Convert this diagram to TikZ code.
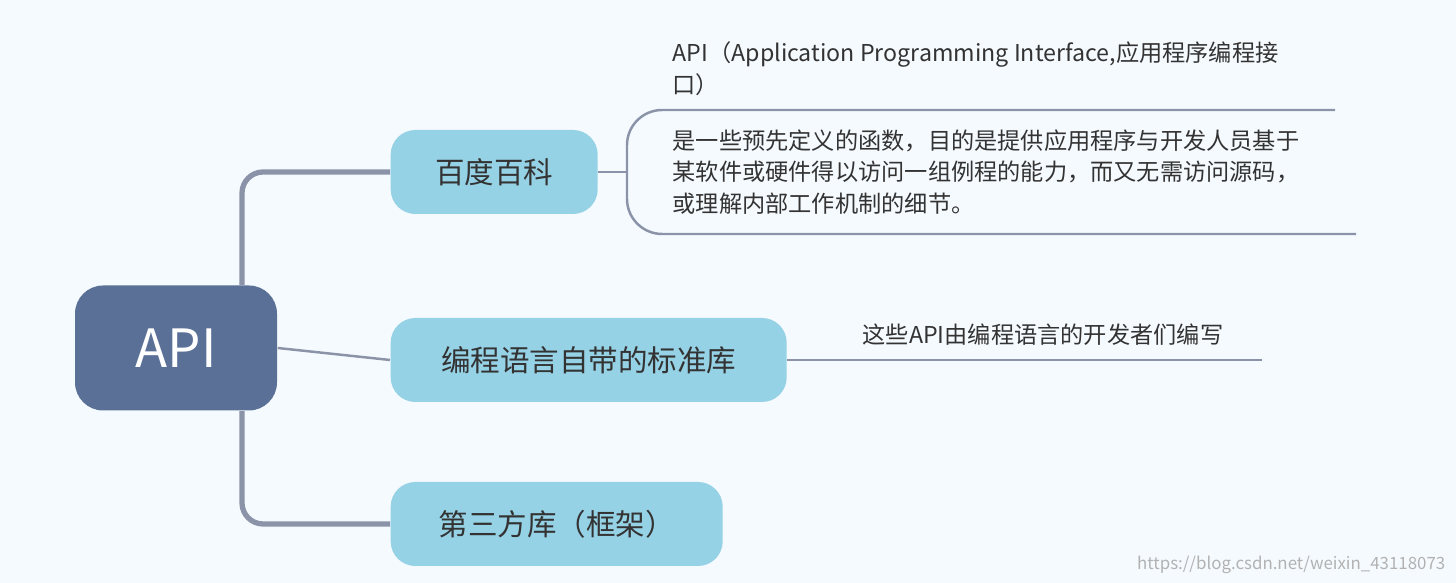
\documentclass[tikz,border=0pt]{standalone}
\usepackage{fontspec}
\setmainfont{Noto Sans CJK SC}
\usetikzlibrary{positioning}
\definecolor{bgcol}{HTML}{F5FAFE}
\definecolor{rootcol}{HTML}{5A7096}
\definecolor{topiccol}{HTML}{96D2E6}
\definecolor{linecol}{HTML}{8A93A8}
\definecolor{txtcol}{HTML}{333333}
\tikzset{
  root/.style={fill=rootcol,rounded corners=8pt,text=white,font=\fontsize{15pt}{18pt}\selectfont,minimum width=202*0.01cm,minimum height=125*0.01cm},
  topic/.style={fill=topiccol,rounded corners=7pt,text=txtcol,font=\fontsize{8.4pt}{10pt}\selectfont,minimum height=84*0.01cm,anchor=west,inner xsep=0.42cm},
  note/.style={text=txtcol,font=\fontsize{6.6pt}{9pt}\selectfont,anchor=west,align=left,inner sep=0pt},
  link/.style={draw=linecol,line width=0.7pt},
  trunk/.style={draw=linecol,line width=1.5pt,rounded corners=6pt}
}
\begin{document}
\begin{tikzpicture}[x=0.01cm,y=-0.01cm]
\fill[bgcol] (0,0) rectangle (1456,583);
\useasboundingbox (0,0) rectangle (1456,583);
\node[root] (api) at (176,348) {API};
\node[topic,minimum width=207*0.01cm] (baike) at (390,172) {百度百科};
\node[topic,minimum width=396*0.01cm] (stdlib) at (390,360) {编程语言自带的标准库};
\node[topic,minimum width=332*0.01cm] (third) at (390,524) {第三方库（框架）};
\node[note] (full) at (672,69) {API（Application Programming Interface,应用程序编程接\\口）};
\node[note] (def) at (672,172) {是一些预先定义的函数，目的是提供应用程序与开发人员基于\\某软件或硬件得以访问一组例程的能力，而又无需访问源码，\\或理解内部工作机制的细节。};
\node[note] (who) at (862,335) {这些API由编程语言的开发者们编写};
\node[anchor=east,text=gray!60,font=\fontsize{4.8pt}{6pt}\selectfont,inner sep=0pt] (mark) at (1446,565) {https://blog.csdn.net/weixin\_43118073};
\coordinate (fork) at (242,172);
% trunk
\draw[trunk] (api.north -| fork) -- (fork) -- (baike.west);
\draw[trunk] (api.south -| fork) |- (third.west);
\draw[link] (api.east) -- (stdlib.west);
% notes
\coordinate (brk) at (627,172);
\draw[link] (baike.east) -- (brk);
\draw[link,rounded corners=10pt] (1335,110) -- (brk |- 0,110) -- (brk |- 0,234) -- (1356,234);
\draw[link] (stdlib.east) -- (1262,360);
\end{tikzpicture}
\end{document}
